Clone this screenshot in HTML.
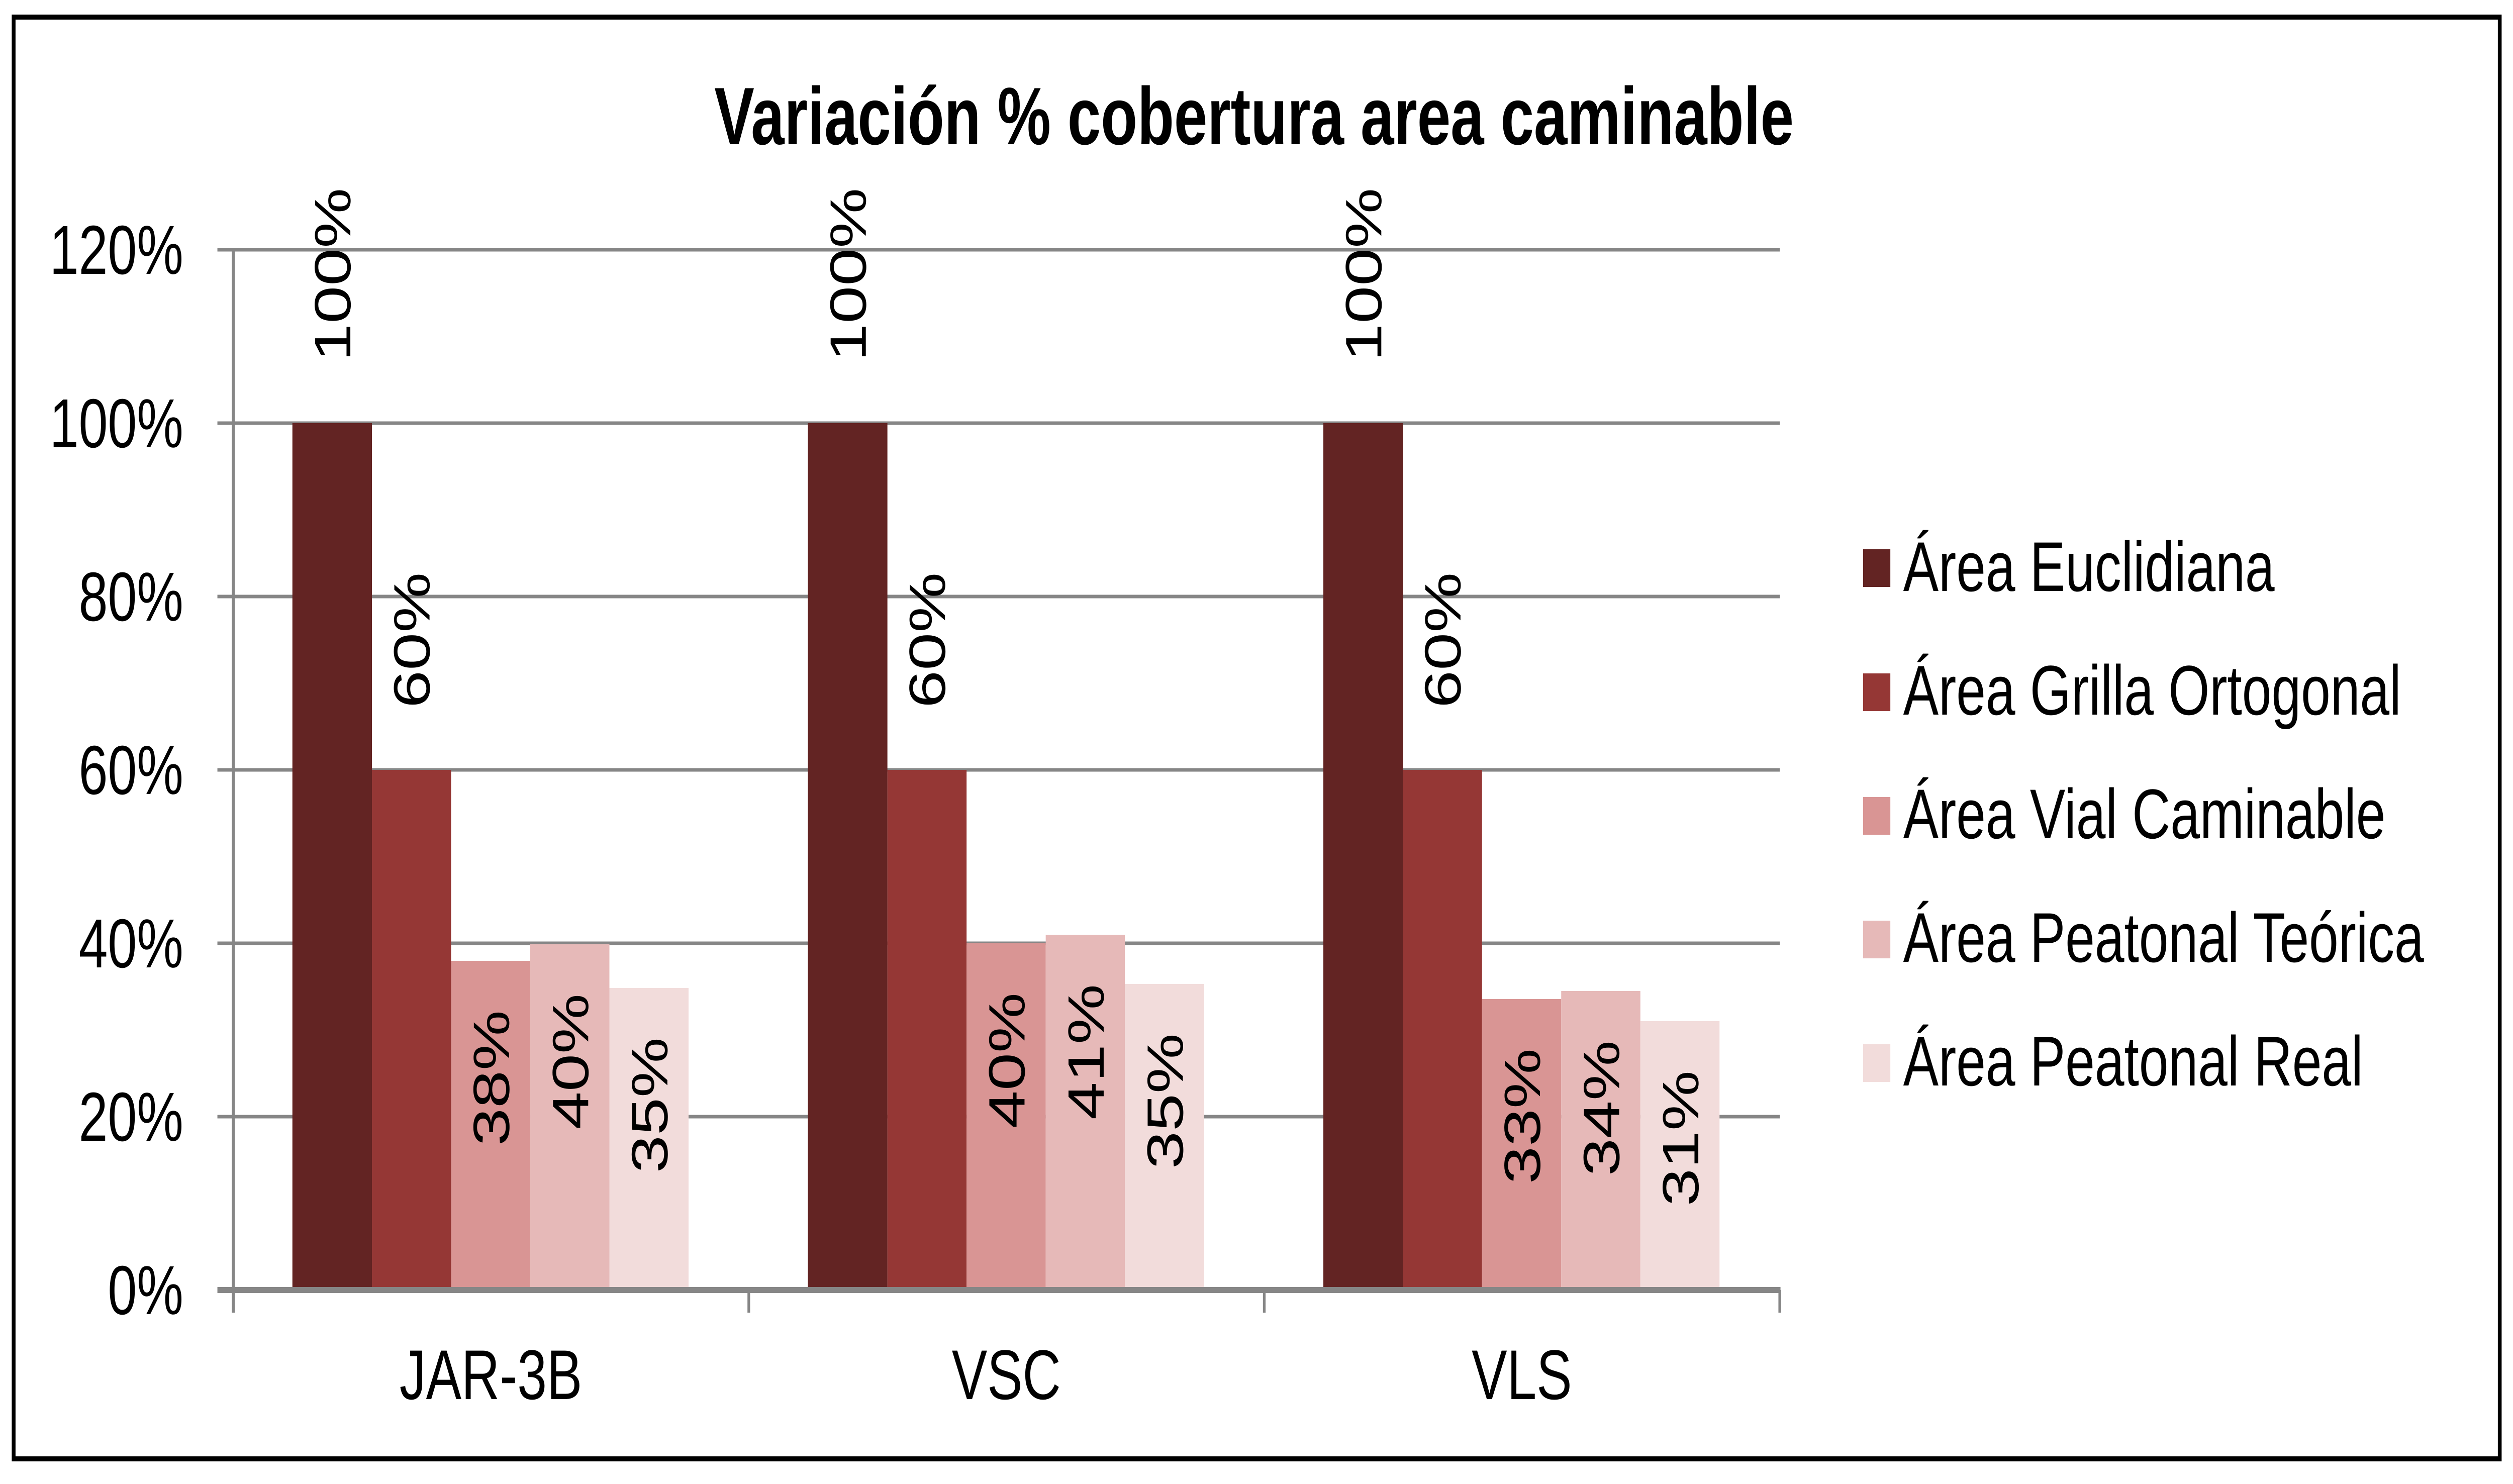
<!DOCTYPE html>
<html><head><meta charset="utf-8"><style>
html,body{margin:0;padding:0;background:#fff;overflow:hidden;width:100vw;height:100vh;}
svg{display:block;width:100vw;height:100vh;}
text{font-family:"Liberation Sans",Arial,sans-serif;fill:#000;}
</style></head><body>
<svg viewBox="0 0 6635 2953" preserveAspectRatio="none" xmlns="http://www.w3.org/2000/svg">
<rect x="0" y="0" width="6635" height="2953" fill="#fff"/>
<rect x="36" y="34" width="6564" height="2869" fill="none" stroke="#000" stroke-width="10"/>
<text x="1886" y="287" font-size="162" font-weight="bold" textLength="2850" lengthAdjust="spacingAndGlyphs">Variación % cobertura area caminable</text>
<g stroke="#868686" stroke-width="7">
<line x1="574" y1="497" x2="4699" y2="497"/>
<line x1="574" y1="842" x2="4699" y2="842"/>
<line x1="574" y1="1187" x2="4699" y2="1187"/>
<line x1="574" y1="1532" x2="4699" y2="1532"/>
<line x1="574" y1="1877" x2="4699" y2="1877"/>
<line x1="574" y1="2222" x2="4699" y2="2222"/>
</g>
<g font-size="138" text-anchor="end">
<text x="484" y="545">120%</text>
<text x="484" y="890">100%</text>
<text x="484" y="1235">80%</text>
<text x="484" y="1580">60%</text>
<text x="484" y="1925">40%</text>
<text x="484" y="2270">20%</text>
<text x="484" y="2615">0%</text>
</g>
<g>
<rect x="772" y="842" width="210" height="1725" fill="#632423"/>
<rect x="982" y="1532" width="209" height="1035" fill="#953735"/>
<rect x="1191" y="1912" width="209" height="655" fill="#D99594"/>
<rect x="1400" y="1879" width="209" height="688" fill="#E6B9B8"/>
<rect x="1609" y="1966" width="209" height="601" fill="#F2DCDB"/>
<rect x="2133" y="842" width="210" height="1725" fill="#632423"/>
<rect x="2343" y="1532" width="209" height="1035" fill="#953735"/>
<rect x="2552" y="1877" width="209" height="690" fill="#D99594"/>
<rect x="2761" y="1860" width="209" height="707" fill="#E6B9B8"/>
<rect x="2970" y="1958" width="209" height="609" fill="#F2DCDB"/>
<rect x="3494" y="842" width="210" height="1725" fill="#632423"/>
<rect x="3704" y="1532" width="209" height="1035" fill="#953735"/>
<rect x="3913" y="1988" width="209" height="579" fill="#D99594"/>
<rect x="4122" y="1972" width="209" height="595" fill="#E6B9B8"/>
<rect x="4331" y="2032" width="209" height="535" fill="#F2DCDB"/>
</g>
<line x1="616" y1="493" x2="616" y2="2612" stroke="#868686" stroke-width="8"/>
<line x1="574" y1="2567" x2="4701" y2="2567" stroke="#868686" stroke-width="12"/>
<g stroke="#868686" stroke-width="7">
<line x1="1977" y1="2567" x2="1977" y2="2612"/>
<line x1="3338" y1="2567" x2="3338" y2="2612"/>
<line x1="4699" y1="2567" x2="4699" y2="2612"/>
</g>
<g font-size="135">
<text text-anchor="start" transform="translate(925,719) rotate(-90)">100%</text>
<text text-anchor="start" transform="translate(1134,1409) rotate(-90)">60%</text>
<text text-anchor="start" transform="translate(2286,719) rotate(-90)">100%</text>
<text text-anchor="start" transform="translate(2495,1409) rotate(-90)">60%</text>
<text text-anchor="start" transform="translate(3647,719) rotate(-90)">100%</text>
<text text-anchor="start" transform="translate(3856,1409) rotate(-90)">60%</text>
<text text-anchor="end" transform="translate(1344,2010) rotate(-90)">38%</text>
<text text-anchor="end" transform="translate(1553,1977) rotate(-90)">40%</text>
<text text-anchor="end" transform="translate(1762,2064) rotate(-90)">35%</text>
<text text-anchor="end" transform="translate(2705,1975) rotate(-90)">40%</text>
<text text-anchor="end" transform="translate(2914,1958) rotate(-90)">41%</text>
<text text-anchor="end" transform="translate(3123,2056) rotate(-90)">35%</text>
<text text-anchor="end" transform="translate(4066,2086) rotate(-90)">33%</text>
<text text-anchor="end" transform="translate(4275,2070) rotate(-90)">34%</text>
<text text-anchor="end" transform="translate(4484,2130) rotate(-90)">31%</text>
</g>
<g font-size="140" text-anchor="middle">
<text x="1296" y="2784">JAR-3B</text>
<text x="2657" y="2784">VSC</text>
<text x="4018" y="2784">VLS</text>
</g>
<rect x="4919" y="1093" width="72" height="75" fill="#632423"/>
<rect x="4919" y="1340" width="72" height="75" fill="#953735"/>
<rect x="4919" y="1586" width="72" height="75" fill="#D99594"/>
<rect x="4919" y="1832" width="72" height="75" fill="#E6B9B8"/>
<rect x="4919" y="2078" width="72" height="75" fill="#F2DCDB"/>
<g font-size="140">
<text x="5025" y="1176">Área Euclidiana</text>
<text x="5025" y="1422">Área Grilla Ortogonal</text>
<text x="5025" y="1668">Área Vial Caminable</text>
<text x="5025" y="1914">Área Peatonal Teórica</text>
<text x="5025" y="2160">Área Peatonal Real</text>
</g>
</svg>
</body></html>
